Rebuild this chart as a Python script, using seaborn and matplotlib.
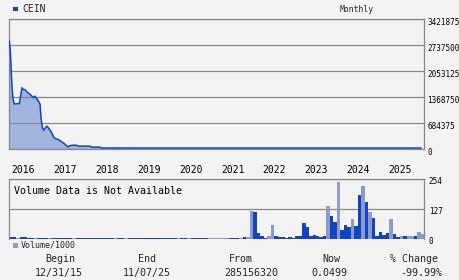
import matplotlib
matplotlib.use("Agg")
import calendar
import numpy as np
import pandas as pd
import matplotlib.pyplot as plt
import seaborn as sns
from matplotlib.patches import Rectangle
from matplotlib.transforms import ScaledTranslation

# ---------------- data ----------------
symbol = "CEIN"
period = "Monthly"

price_dates = [
    "2015-12-31", "2016-01-09", "2016-01-17", "2016-01-26", "2016-02-04", "2016-02-13",
    "2016-03-04", "2016-03-27", "2016-04-08", "2016-04-19", "2016-05-01", "2016-05-16",
    "2016-05-31", "2016-06-14", "2016-06-29", "2016-07-14", "2016-07-28", "2016-08-12",
    "2016-08-27", "2016-09-10", "2016-09-25", "2016-10-03", "2016-10-15", "2016-10-27",
    "2016-11-08", "2016-11-25", "2016-12-10", "2016-12-27", "2017-01-14", "2017-01-25",
    "2017-02-12", "2017-03-02", "2017-03-23", "2017-04-09", "2017-04-30", "2017-05-14",
    "2017-05-28", "2017-06-12", "2017-07-11", "2017-08-10", "2017-08-24", "2017-12-04",
    "2017-12-19", "2018-03-01", "2018-03-15", "2019-01-01", "2020-01-01", "2021-01-01",
    "2022-01-01", "2023-01-01", "2024-01-01", "2025-01-01", "2025-11-07",
]
price_values = [
    2850000, 2590000, 2080000, 1540000, 1290000, 1190000,
    1200000, 1200000, 1400000, 1620000, 1570000, 1570000,
    1520000, 1480000, 1450000, 1400000, 1360000, 1400000,
    1340000, 1270000, 1190000, 830000, 570000, 500000,
    555000, 610000, 555000, 485000, 380000, 310000,
    275000, 255000, 220000, 180000, 135000, 90000,
    62000, 98000, 108000, 108000, 82000, 82000,
    56000, 56000, 34000, 33000, 33000, 33000,
    33000, 33000, 33000, 33000, 33000,
]

# monthly volume (thousands), Jan 2016 .. Nov 2025 (119 months)
volume_values = [
    8, 8, 4, 8, 8, 6, 6, 4, 5, 5, 5, 4,
    5, 5, 5, 5, 5, 4, 4, 4, 4, 4, 4, 4,
    4, 4, 4, 4, 4, 4, 4, 4, 4, 4, 4, 4,
    4, 4, 4, 4, 4, 4, 4, 4, 4, 4, 4, 4,
    4, 4, 4, 4, 4, 4, 4, 4, 4, 3, 3, 6,
    3, 6, 3, 4, 4, 4, 3, 9, 9, 120, 116, 26,
    13, 4, 13, 60, 13, 9, 9, 4, 9, 4, 13, 13,
    68, 51, 13, 17, 13, 9, 13, 141, 98, 73, 244, 39,
    60, 51, 86, 56, 188, 227, 158, 116, 90, 13, 30, 17,
    26, 86, 21, 9, 13, 13, 13, 13, 13, 30, 21,
]
light_months = [2, 7, 11, 18, 30, 33, 48, 51, 57, 58, 59, 60, 61, 62,
                66, 68, 69, 74, 75, 91, 94, 98, 101, 103, 109, 112, 114, 115, 117, 118]
volume_kind = ["light" if i in light_months else "dark" for i in range(len(volume_values))]

year_labels = ["2016", "2017", "2018", "2019", "2020", "2021", "2022", "2023", "2024", "2025"]
price_ticks = [0, 684375, 1368750, 2053125, 2737500, 3421875]
volume_ticks = [0, 127, 254]

footer_heads = ["Begin", "End", "From", "Now", "% Change"]
footer_vals = ["12/31/15", "11/07/25", "285156320", "0.0499", "-99.99%"]

# ---------------- style ----------------
BG = "#f3f3f3"
LINE = "#1144c4"
FILL = "#a1b3df"
LIGHT = "#8a9bcb"
GRID = "#888888"

sns.set_theme(style="white")
plt.rcParams["font.family"] = ["DejaVu Sans Mono", "DejaVu Sans"]

W, H = 460, 280
fig = plt.figure(figsize=(W / 100, H / 100), dpi=100, facecolor=BG)


def px_axes(l, t, r, b):
    return fig.add_axes([l / W, 1 - b / H, (r - l) / W, (b - t) / H])


def ptext(x, y, s, **kw):
    fig.text(x / W, 1 - y / H, s, **kw)


def month_pos(d):
    d = pd.Timestamp(d)
    return (d.year - 2016) * 12 + (d.month - 1) + (d.day - 1) / calendar.monthrange(d.year, d.month)[1]


px_x = [month_pos(d) for d in price_dates]
XMIN, XMAX = -0.03, 119.0

# ---------------- price panel ----------------
ax = px_axes(9.3, 19.3, 424, 149.3)
ax.set_facecolor(BG)
ax.fill_between(px_x, price_values, 0, color=FILL, lw=0, zorder=1)
sns.lineplot(x=px_x, y=price_values, ax=ax, color=LINE, lw=1.1, zorder=3)
ax.set_xlim(XMIN, XMAX)
ax.set_ylim(0, price_ticks[-1])
ax.set_yticks(price_ticks)
ax.set_yticklabels([str(v) for v in price_ticks])
ax.yaxis.tick_right()
ax.set_axisbelow("line")
ax.grid(axis="y", color=GRID, lw=0.9)
ax.grid(axis="x", visible=False)
ax.set_xticks([12 * i for i in range(len(year_labels))])
ax.set_xticklabels(year_labels, ha="left")
ax.tick_params(axis="x", length=0, pad=11.5, labelsize=7, colors="black")
ax.tick_params(axis="y", length=0, pad=2.6, labelsize=5.5, colors="black")
ax.set_xlabel("")
ax.set_ylabel("")
for s in ax.spines.values():
    s.set_color(GRID)
    s.set_linewidth(0.9)
for lab in ax.get_xticklabels():
    lab.set_transform(lab.get_transform() + ScaledTranslation(2.4 / 100, 0, fig.dpi_scale_trans))
for lab in ax.get_yticklabels():
    lab.set_transform(lab.get_transform() + ScaledTranslation(0, -2 / 100, fig.dpi_scale_trans))

# ---------------- volume panel ----------------
vax = px_axes(9.3, 179.3, 424, 239)
vax.set_facecolor(BG)
vdf = pd.DataFrame({
    "pos": np.arange(len(volume_values)) + 0.5,
    "vol": volume_values,
    "kind": volume_kind,
})
sns.barplot(data=vdf, x="pos", y="vol", hue="kind", palette={"dark": LINE, "light": LIGHT},
            native_scale=True, width=1.0, dodge=False, errorbar=None, legend=False,
            linewidth=0, saturation=1, ax=vax)
vax.set_xlim(XMIN, XMAX)
vax.set_ylim(0, volume_ticks[-1])
vax.set_yticks(volume_ticks)
vax.set_yticklabels([str(v) for v in volume_ticks])
vax.yaxis.tick_right()
vax.set_xticks([])
vax.set_axisbelow(True)
vax.grid(axis="y", color=GRID, lw=0.9)
vax.tick_params(axis="y", length=0, pad=3.5, labelsize=5.5, colors="black")
vax.set_xlabel("")
vax.set_ylabel("")
for k, s in vax.spines.items():
    s.set_color(GRID)
    s.set_linewidth(0.9)
vax.spines["bottom"].set_visible(False)
for lab in vax.get_yticklabels():
    lab.set_transform(lab.get_transform() + ScaledTranslation(0, -1.5 / 100, fig.dpi_scale_trans))
vax.text(4.5 / 414.7, 1 - 12 / 59.7, "Volume Data is Not Available", transform=vax.transAxes,
         fontsize=7.2, ha="left", va="center", color="black")

# ---------------- header / legend ----------------
fig.add_artist(Rectangle((13.3 / W, 1 - 11.3 / H), 4.3 / W, 4.6 / H,
                         transform=fig.transFigure, color=LINE, lw=0))
ptext(22.5, 9, symbol, fontsize=7, ha="left", va="center")
ptext(357, 9, period, fontsize=5.9, ha="center", va="center")

fig.add_artist(Rectangle((13.3 / W, 1 - 247.5 / H), 4.3 / W, 4.3 / H,
                         transform=fig.transFigure, color=LIGHT, lw=0))
ptext(20.7, 245.5, "Volume/1000", fontsize=6, ha="left", va="center")

# ---------------- footer ----------------
head_x = [60, 147, 241, 331, 414]
val_x = [59, 147, 251, 329, 421]
for hx, vx, h, v in zip(head_x, val_x, footer_heads, footer_vals):
    ptext(hx, 259, h, fontsize=7.2, ha="center", va="center")
    ptext(vx, 273, v, fontsize=7.2, ha="center", va="center")

fig.savefig("out.png", dpi=100, facecolor=BG)
